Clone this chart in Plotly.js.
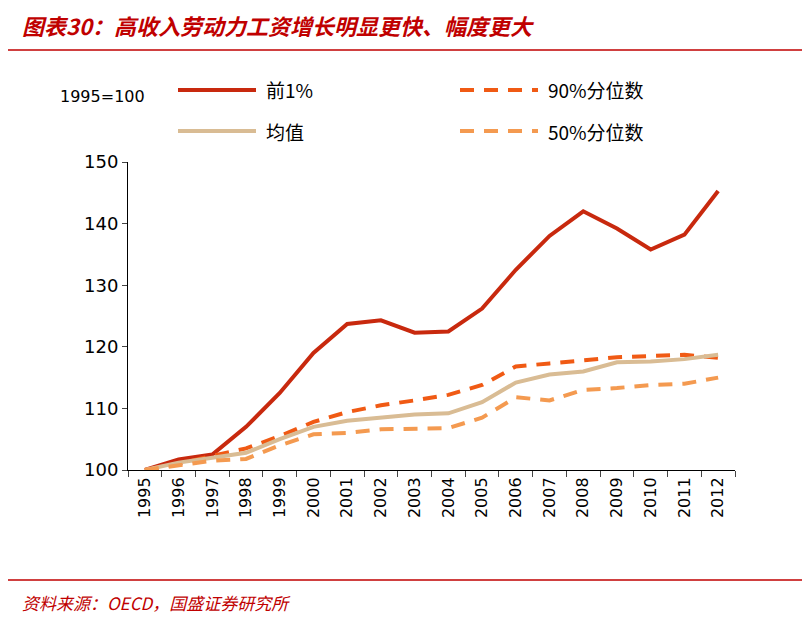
<!DOCTYPE html><html><head><meta charset="utf-8"><script src="https://cdn.plot.ly/plotly-3.0.1.min.js"></script></head><body style="margin:0"><div id="c" style="width:811px;height:629px"></div><script>
const years=['1995','1996','1997','1998','1999','2000','2001','2002','2003','2004','2005','2006','2007','2008','2009','2010','2011','2012'];
const top1=[100,101.7,102.5,107,112.5,119,123.7,124.3,122.3,122.5,126.2,132.5,138,142,139.2,135.8,138.2,145.3];
const p90=[100,101,102.3,103.5,105.5,107.8,109.4,110.5,111.3,112.2,113.8,116.8,117.3,117.8,118.3,118.5,118.7,118.2];
const mean=[100,101.2,102,102.8,105,107,108,108.5,109,109.2,111,114.2,115.5,116,117.5,117.6,118,118.7];
const p50=[100,100.8,101.5,101.8,104,105.8,106,106.6,106.7,106.8,108.5,111.8,111.3,113,113.3,113.8,114.0,115];
const names=['前1%','90%分位数','均值','50%分位数'];
const cols=['#C8290E','#F05A14','#D9BC94','#F49A50'];
const dashes=['solid','14px,10px','solid','14px,10px'];
const series=[top1,p90,mean,p50];
const data=series.map((s,i)=>({x:years,y:s,type:'scatter',mode:'lines',name:names[i],line:{color:cols[i],width:4,dash:dashes[i]}}));
const F='"Noto Sans CJK SC", sans-serif';
const X=v=>(v-128)/607, Y=v=>(470-v)/308;
const shapes=[{type:'line',xref:'paper',yref:'paper',x0:X(8),x1:X(802),y0:Y(50),y1:Y(50),line:{color:'#C00000',width:1.5}},
{type:'line',xref:'paper',yref:'paper',x0:X(8),x1:X(802),y0:Y(580),y1:Y(580),line:{color:'#C00000',width:1.5}}];
const ann=[{xref:'paper',yref:'paper',x:X(20),y:Y(25),xanchor:'left',yanchor:'middle',showarrow:false,text:'<b><i>图表30：高收入劳动力工资增长明显更快、幅度更大</i></b>',font:{family:F,size:22,color:'#C00000'}},
{xref:'paper',yref:'paper',x:X(20),y:Y(602),xanchor:'left',yanchor:'middle',showarrow:false,text:'<i>资料来源：OECD，国盛证券研究所</i>',font:{family:F,size:17,color:'#C00000'}},
{xref:'paper',yref:'paper',x:X(58),y:Y(97),xanchor:'left',yanchor:'middle',showarrow:false,text:'1995=100',font:{family:'Verdana, DejaVu Sans',size:16,color:'#000'}}];
const lpos=[[178,90],[460,90],[178,131],[460,131]];
lpos.forEach((p,i)=>{
 shapes.push({type:'line',xref:'paper',yref:'paper',x0:X(p[0]),x1:X(p[0]+78),y0:Y(p[1]),y1:Y(p[1]),line:{color:cols[i],width:4,dash:dashes[i]}});
 ann.push({xref:'paper',yref:'paper',x:X(p[0]+86),y:Y(p[1]),xanchor:'left',yanchor:'middle',showarrow:false,text:names[i],font:{family:F,size:19,color:'#000'}});
});
Plotly.newPlot('c',data,{width:811,height:629,margin:{l:128,r:76,t:162,b:159},showlegend:false,paper_bgcolor:'#fff',plot_bgcolor:'#fff',
xaxis:{type:'category',range:[-0.5,17.5],tickangle:-90,tickson:'boundaries',ticks:'outside',ticklen:6,showline:true,linecolor:'#000',showgrid:false,tickfont:{family:'Verdana, DejaVu Sans',size:16,color:'#000'}},
yaxis:{range:[100,150],dtick:10,ticks:'outside',ticklen:5,showline:true,linecolor:'#000',showgrid:false,zeroline:false,tickfont:{family:'Verdana, DejaVu Sans',size:18,color:'#000'}},
shapes:shapes,annotations:ann},{displayModeBar:false});
</script></body></html>
